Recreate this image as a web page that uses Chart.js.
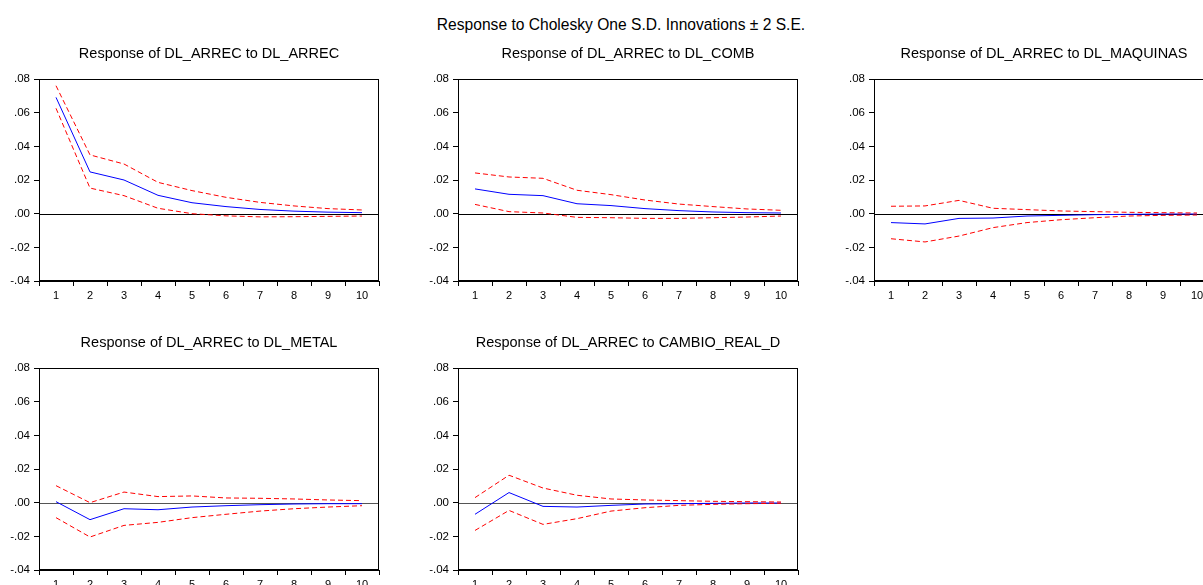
<!DOCTYPE html>
<html><head><meta charset="utf-8">
<script src="https://cdn.jsdelivr.net/npm/chart.js@4.4.1/dist/chart.umd.min.js"></script>
<style>
html,body{margin:0;padding:0;background:#fff;overflow:hidden;width:1203px;height:585px;}
#main{position:absolute;left:0;width:1242px;top:16px;line-height:18px;text-align:center;font-family:"Liberation Sans",Arial,sans-serif;font-size:15.6px;color:#000;white-space:nowrap;}
canvas.p{position:absolute;}
</style></head><body>
<div id="main">Response to Cholesky One S.D. Innovations ± 2 S.E.</div>
<canvas class="p" id="c1" width="380" height="258" style="left:1px;top:45px;"></canvas>
<canvas class="p" id="c2" width="380" height="258" style="left:420px;top:45px;"></canvas>
<canvas class="p" id="c3" width="380" height="258" style="left:836px;top:45px;"></canvas>
<canvas class="p" id="c4" width="380" height="258" style="left:1px;top:334px;"></canvas>
<canvas class="p" id="c5" width="380" height="258" style="left:420px;top:334px;"></canvas>
<script>
// ---- data ----
const periods = ['1','2','3','4','5','6','7','8','9','10'];
const yTickValues = [-0.04,-0.02,0,0.02,0.04,0.06,0.08];
const yTickLabels = ['-.04','-.02','.00','.02','.04','.06','.08'];
const panelTitles = [
  'Response of DL_ARREC to DL_ARREC',
  'Response of DL_ARREC to DL_COMB',
  'Response of DL_ARREC to DL_MAQUINAS',
  'Response of DL_ARREC to DL_METAL',
  'Response of DL_ARREC to CAMBIO_REAL_D'
];
// Panel 1: DL_ARREC
const arrecResp  = [0.0691,0.0248,0.0200,0.0109,0.0065,0.0042,0.0025,0.0015,0.0009,0.0006];
const arrecUpper = [0.0760,0.0349,0.0295,0.0186,0.0137,0.0097,0.0067,0.0046,0.0030,0.0022];
const arrecLower = [0.0626,0.0152,0.0107,0.0032,0.0000,-0.0013,-0.0019,-0.0018,-0.0016,-0.0014];
// Panel 2: DL_COMB
const combResp  = [0.0147,0.0115,0.0107,0.0059,0.0048,0.0030,0.0018,0.0010,0.0006,0.0004];
const combUpper = [0.0242,0.0218,0.0210,0.0139,0.0113,0.0081,0.0057,0.0042,0.0028,0.0020];
const combLower = [0.0055,0.0012,0.0004,-0.0022,-0.0024,-0.0028,-0.0028,-0.0024,-0.0020,-0.0014];
// Panel 3: DL_MAQUINAS
const maqResp  = [-0.0053,-0.0061,-0.0028,-0.0026,-0.0014,-0.0010,-0.0006,-0.0004,-0.0002,-0.0002];
const maqUpper = [0.0044,0.0046,0.0079,0.0032,0.0024,0.0016,0.0012,0.0008,0.0006,0.0004];
const maqLower = [-0.0149,-0.0168,-0.0133,-0.0083,-0.0053,-0.0036,-0.0024,-0.0014,-0.0010,-0.0008];
// Panel 4: DL_METAL
const metalResp  = [0.0006,-0.0101,-0.0036,-0.0042,-0.0026,-0.0018,-0.0012,-0.0008,-0.0006,-0.0006];
const metalUpper = [0.0101,0.0000,0.0063,0.0036,0.0040,0.0028,0.0026,0.0022,0.0016,0.0012];
const metalLower = [-0.0089,-0.0204,-0.0135,-0.0117,-0.0089,-0.0069,-0.0050,-0.0036,-0.0026,-0.0018];
// Panel 5: CAMBIO_REAL_D
const cambioResp  = [-0.0069,0.0060,-0.0022,-0.0026,-0.0016,-0.0008,-0.0006,-0.0004,-0.0002,-0.0002];
const cambioUpper = [0.0030,0.0163,0.0087,0.0044,0.0022,0.0016,0.0012,0.0008,0.0006,0.0004];
const cambioLower = [-0.0165,-0.0046,-0.0129,-0.0095,-0.0050,-0.0030,-0.0016,-0.0010,-0.0006,-0.0004];

// ---- drawing ----
const FONT = '"Liberation Sans", Arial, sans-serif';

const framePlugin = {
  id: 'frame',
  beforeDatasetsDraw(chart, args, opts) {
    const a = chart.chartArea, ctx = chart.ctx;
    const y = Math.round(chart.scales.y.getPixelForValue(0)) + 0.5;
    ctx.save();
    ctx.strokeStyle = opts.zeroColor || '#000';
    ctx.lineWidth = 1;
    ctx.beginPath();
    ctx.moveTo(a.left, y);
    ctx.lineTo(a.right, y);
    ctx.stroke();
    ctx.restore();
  },
  afterDraw(chart) {
    const a = chart.chartArea, ctx = chart.ctx;
    ctx.save();
    ctx.strokeStyle = '#000';
    ctx.lineWidth = 1;
    const l = Math.round(a.left) + 0.5, t = Math.round(a.top) + 0.5;
    const r = Math.round(a.right) - 0.5, b = Math.round(a.bottom) - 0.5;
    ctx.strokeRect(l, t, r - l, b - t);
    ctx.restore();
  }
};

function makePanel(id, title, resp, upper, lower, zeroColor) {
  const line = (data, color, dash) => ({
    data, borderColor: color, borderWidth: 1, borderDash: dash,
    pointRadius: 0, fill: false, tension: 0
  });
  new Chart(document.getElementById(id), {
    type: 'line',
    data: {
      labels: periods,
      datasets: [
        line(upper, '#ff0000', [5, 3]),
        line(lower, '#ff0000', [5, 3]),
        line(resp, '#0000ff', [])
      ]
    },
    options: {
      responsive: false, animation: false, devicePixelRatio: 1,
      layout: { padding: { left: 0, right: 2, top: 0, bottom: 0 } },
      plugins: {
        legend: { display: false },
        tooltip: { enabled: false },
        frame: { zeroColor },
        title: {
          display: true, text: title, fullSize: false, color: '#000',
          font: { family: FONT, size: 14.5, weight: 'normal', lineHeight: 1.2 },
          padding: { top: 0, bottom: 16.6 }
        }
      },
      scales: {
        x: {
          type: 'category', offset: true,
          grid: { offset: true, drawOnChartArea: false, drawTicks: true, tickLength: 5, color: '#000' },
          border: { display: true, color: '#000' },
          ticks: { font: { family: FONT, size: 11 }, color: '#000', padding: 3, maxRotation: 0, autoSkip: false },
          afterFit: s => { s.height = 22; }
        },
        y: {
          min: -0.04, max: 0.08,
          grid: { drawOnChartArea: false, drawTicks: true, tickLength: 5, color: '#000' },
          border: { display: true, color: '#000' },
          ticks: {
            stepSize: 0.02, font: { family: FONT, size: 11.5 }, color: '#000', padding: 4,
            callback: v => {
              const i = yTickValues.findIndex(t => Math.abs(t - v) < 1e-9);
              return i >= 0 ? yTickLabels[i] : '';
            }
          },
          afterFit: s => { s.width = 38; }
        }
      }
    },
    plugins: [framePlugin]
  });
}

makePanel('c1', panelTitles[0], arrecResp, arrecUpper, arrecLower, '#000');
makePanel('c2', panelTitles[1], combResp, combUpper, combLower, '#000');
makePanel('c3', panelTitles[2], maqResp, maqUpper, maqLower, '#000');
makePanel('c4', panelTitles[3], metalResp, metalUpper, metalLower, '#555');
makePanel('c5', panelTitles[4], cambioResp, cambioUpper, cambioLower, '#555');
</script>
</body></html>
